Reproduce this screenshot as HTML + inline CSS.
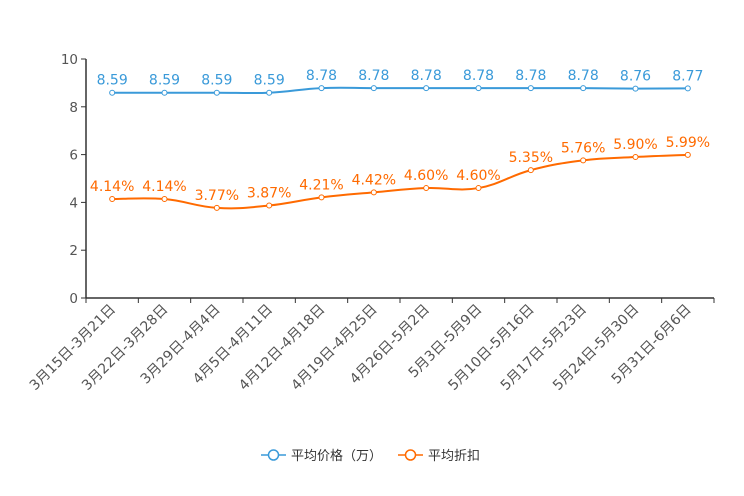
<!DOCTYPE html>
<html><head><meta charset="utf-8"><style>
body{margin:0;background:#fff;}
svg{display:block;font-family:"DejaVu Sans","Noto Sans CJK SC",sans-serif;}
</style></head><body>
<svg id="c" width="744" height="496"></svg>
<script>
const categories=["3月15日-3月21日","3月22日-3月28日","3月29日-4月4日","4月5日-4月11日","4月12日-4月18日","4月19日-4月25日","4月26日-5月2日","5月3日-5月9日","5月10日-5月16日","5月17日-5月23日","5月24日-5月30日","5月31日-6月6日"];
const priceValues=[8.59,8.59,8.59,8.59,8.78,8.78,8.78,8.78,8.78,8.78,8.76,8.77];
const discountValues=[4.14,4.14,3.77,3.87,4.21,4.42,4.60,4.60,5.35,5.76,5.90,5.99];
const yTicks=[0,2,4,6,8,10];
const priceColor="#3a9ad9",discColor="#ff6a00";
const NS="http://www.w3.org/2000/svg";
const svg=document.getElementById('c');
const L=86,R=714,T=59,B=298;
const bw=(R-L)/categories.length;
const x=i=>L+bw*(i+0.5);
const y=v=>B-(v/10)*(B-T);
function el(t,a,p){const e=document.createElementNS(NS,t);for(const k in a)e.setAttribute(k,a[k]);(p||svg).appendChild(e);return e;}
const ya=el('g',{});


el('line',{x1:L,y1:T,x2:L,y2:B,stroke:'#333','stroke-width':1.5},ya);
yTicks.forEach(v=>{
 el('line',{x1:L-5,y1:y(v),x2:L,y2:y(v),stroke:'#333'},ya);
 const t=el('text',{x:L-8,y:y(v)+5,'text-anchor':'end','font-size':13.5,fill:'#555'},ya);t.textContent=v;
 
 
});
const xa=el('g',{});


el('line',{x1:L,y1:B,x2:R,y2:B,stroke:'#333','stroke-width':1.5},xa);
for(let i=0;i<=categories.length;i++)el('line',{x1:L+bw*i,y1:B,x2:L+bw*i,y2:B+5,stroke:'#333'},xa);
categories.forEach((c,i)=>{
 const t=el('text',{x:x(i)+4,y:B+12,'text-anchor':'end','font-size':14,fill:'#555',transform:`rotate(-45 ${x(i)+4} ${B+12})`},xa);t.textContent=c;
 
 
});
function smooth(pts){let d=`M${pts[0][0]},${pts[0][1]}`;for(let i=0;i<pts.length-1;i++){const p0=pts[i-1]||pts[i],p1=pts[i],p2=pts[i+1],p3=pts[i+2]||p2;const s=0.2;
 d+=` C${p1[0]+(p2[0]-p0[0])*s},${p1[1]+(p2[1]-p0[1])*s} ${p2[0]-(p3[0]-p1[0])*s},${p2[1]-(p3[1]-p1[1])*s} ${p2[0]},${p2[1]}`;}return d;}
function series(vals,color,name,fmt){
 const g=el('g',{});
 
 
 const pts=vals.map((v,i)=>[x(i),y(v)]);
 el('path',{d:smooth(pts),fill:'none',stroke:color,'stroke-width':2},g);
 vals.forEach((v,i)=>{
  const c=el('circle',{cx:x(i),cy:y(v),r:2.5,fill:'#fff',stroke:color,'stroke-width':1},g);
  
  
  const t=el('text',{x:x(i),y:y(v)-8,'text-anchor':'middle','font-size':14,fill:color},g);t.textContent=fmt(v);
  
  
 });
}
series(priceValues,priceColor,'price-series',v=>v.toFixed(2));
series(discountValues,discColor,'discount-series',v=>v.toFixed(2)+'%');
function legend(lx,color,label,name){
 const g=el('g',{});
 
 
 el('line',{x1:lx,y1:455,x2:lx+25,y2:455,stroke:color,'stroke-width':1.5},g);
 el('circle',{cx:lx+12.5,cy:455,r:5,fill:'#fff',stroke:color,'stroke-width':1.5},g);
 const t=el('text',{x:lx+30,y:460,'font-size':13,fill:'#333'},g);t.textContent=label;
}
legend(261,priceColor,'平均价格（万）','legend-price');
legend(398,discColor,'平均折扣','legend-discount');
</script>
</body></html>
